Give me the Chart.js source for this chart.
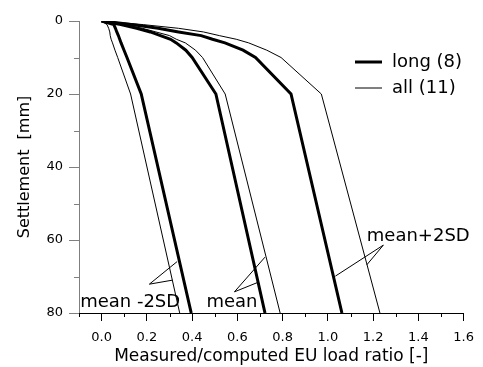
<!DOCTYPE html>
<html>
<head>
  <meta charset="UTF-8" />
  <title>Settlement vs measured/computed EU load ratio</title>
  <script src="https://cdn.jsdelivr.net/npm/chart.js"></script>
  <style>
    body {
      margin: 0;
      background: white;
    }
    canvas {
      display: block;
    }
  </style>
</head>
<body>
  <canvas id="settleChart" width="483" height="367"></canvas>
  <script>
    const settlement = [0, 1, 2, 3, 4, 5, 6, 8, 10, 20, 80];

    // long piles (8) - thick lines
    const longLow  = [0, 0.054, 0.061, 0.067, 0.074, 0.080, 0.086, 0.099, 0.112, 0.175, 0.396];
    const longMean = [0, 0.085, 0.155, 0.215, 0.260, 0.305, 0.330, 0.372, 0.400, 0.505, 0.722];
    const longHigh = [0, 0.140, 0.250, 0.340, 0.440, 0.490, 0.545, 0.625, 0.680, 0.837, 1.062];

    // all piles (11) - thin lines
    const allLow  = [0, 0.024, 0.031, 0.036, 0.038, 0.042, 0.048, 0.059, 0.071, 0.128, 0.345];
    const allMean = [0, 0.100, 0.180, 0.240, 0.300, 0.330, 0.370, 0.415, 0.446, 0.546, 0.789];
    const allHigh = [0, 0.185, 0.340, 0.450, 0.520, 0.595, 0.650, 0.730, 0.793, 0.971, 1.230];

    const legendLabels = ['long (8)', 'all (11)'];

    // leader lines for the labels: end on one curve, apex, end on the other curve
    const leaderLowX  = [0.334, 0.211, 0.313];
    const leaderLowY  = [65.9, 72.1, 71.0];
    const leaderMeanX = [0.722, 0.587, 0.691];
    const leaderMeanY = [64.7, 74.2, 71.6];
    const leaderHighX = [1.033, 1.245, 1.172];
    const leaderHighY = [69.9, 61.4, 66.8];

    const noteText = ['mean -2SD', 'mean', 'mean+2SD'];
    const noteX = [-0.095, 0.463, 1.172];
    const noteY = [78.4, 78.4, 60.2];

    const FONT = '"DejaVu Sans", sans-serif';
    Chart.defaults.font.family = FONT;
    Chart.defaults.color = '#000';

    const toPoints = (xs, ys) => xs.map((v, i) => ({ x: v, y: ys[i] }));
    const isMajorX = v => v > -1e-9 && Math.round(v * 10) % 2 === 0;
    const isMajorY = v => Math.round(v) % 20 === 0;

    function curve(values, width) {
      return {
        data: toPoints(values, settlement),
        borderColor: '#000',
        borderWidth: width,
        showLine: true,
        pointRadius: 0,
        fill: false
      };
    }

    const decorations = {
      id: 'decorations',
      afterDraw(chart) {
        const { ctx, chartArea } = chart;
        const x = chart.scales.x, y = chart.scales.y;
        ctx.save();

        // minor ticks
        ctx.lineWidth = 1;
        ctx.strokeStyle = '#000';
        ctx.beginPath();
        x.ticks.forEach(t => {
          if (isMajorX(t.value)) return;
          const px = Math.round(x.getPixelForValue(t.value)) + 0.5;
          ctx.moveTo(px, chartArea.bottom);
          ctx.lineTo(px, chartArea.bottom + 4);
        });
        ctx.stroke();
        ctx.strokeStyle = '#7f7f7f';
        ctx.beginPath();
        y.ticks.forEach(t => {
          if (isMajorY(t.value)) return;
          const py = Math.round(y.getPixelForValue(t.value)) + 0.5;
          ctx.moveTo(chartArea.left - 5, py);
          ctx.lineTo(chartArea.left, py);
        });
        ctx.stroke();

        // legend
        ctx.strokeStyle = '#000';
        ctx.fillStyle = '#000';
        ctx.font = '18px ' + FONT;
        ctx.textBaseline = 'middle';
        [3, 1].forEach((w, i) => {
          const ly = 62 + i * 26;
          ctx.lineWidth = w;
          ctx.beginPath();
          ctx.moveTo(355, ly);
          ctx.lineTo(382, ly);
          ctx.stroke();
          ctx.fillText(legendLabels[i], 392, ly);
        });

        // curve labels
        ctx.textBaseline = 'alphabetic';
        noteText.forEach((txt, i) => {
          ctx.fillText(txt, x.getPixelForValue(noteX[i]), y.getPixelForValue(noteY[i]));
        });
        ctx.restore();
      }
    };

    const leader = (xs, ys) => ({
      data: toPoints(xs, ys),
      borderColor: '#000',
      borderWidth: 1,
      showLine: true,
      pointRadius: 0,
      clip: false
    });

    new Chart(document.getElementById('settleChart'), {
      type: 'scatter',
      data: {
        datasets: [
          curve(allLow, 1), curve(allMean, 1), curve(allHigh, 1),
          curve(longLow, 3), curve(longMean, 3), curve(longHigh, 3),
          leader(leaderLowX, leaderLowY),
          leader(leaderMeanX, leaderMeanY),
          leader(leaderHighX, leaderHighY)
        ]
      },
      options: {
        responsive: false,
        animation: false,
        layout: { padding: { top: 21, right: 15, left: 0, bottom: 0 } },
        plugins: {
          legend: { display: false },
          tooltip: { enabled: false }
        },
        scales: {
          x: {
            type: 'linear',
            min: -0.1,
            max: 1.6,
            ticks: {
              stepSize: 0.1,
              autoSkip: false,
              maxRotation: 0,
              padding: 9,
              font: { size: 13 },
              callback: v => isMajorX(v) ? Math.abs(v).toFixed(1) : ''
            },
            grid: {
              drawOnChartArea: false,
              tickLength: 8,
              tickColor: c => isMajorX(c.tick.value) ? '#000' : 'rgba(0,0,0,0)'
            },
            border: { color: '#000', width: 1 },
            title: {
              display: true,
              text: 'Measured/computed EU load ratio [-]',
              font: { size: 17 },
              padding: 0
            },
            afterFit: s => { s.height = 54; }
          },
          y: {
            type: 'linear',
            reverse: true,
            min: 0,
            max: 80,
            ticks: {
              stepSize: 10,
              autoSkip: false,
              padding: 6,
              font: { size: 13 },
              callback: v => isMajorY(v) ? v : ''
            },
            grid: {
              drawOnChartArea: false,
              tickLength: 10,
              tickColor: c => isMajorY(c.tick.value) ? '#7f7f7f' : 'rgba(0,0,0,0)'
            },
            border: { color: '#7f7f7f', width: 1 },
            title: {
              display: true,
              text: 'Settlement  [mm]',
              font: { size: 16 },
              padding: { top: 15 }
            },
            afterFit: s => { s.width = 79; }
          }
        }
      },
      plugins: [decorations]
    });
  </script>
</body>
</html>
